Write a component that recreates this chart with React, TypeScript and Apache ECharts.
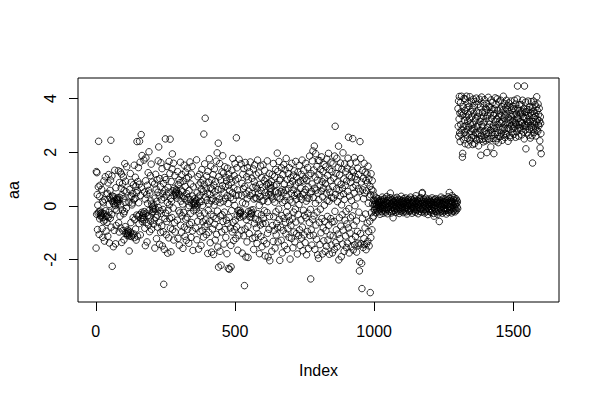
import React, { useEffect, useRef } from "react";
import * as echarts from "echarts";

// Index 1..250
const seg1a = [
  -1.57, 1.28, -0.31, 1.24, 0.42, -0.88, 0.03, -0.27, 0.71, 2.41, -0.22, -1.06, 0.35, -0.48, 0.77, -0.19, -0.36, -0.28, -0.41, -0.33, 0.62, -0.25, -0.84, 0.18, -1.17,
  -0.43, 0.12, -0.57, 0.93, -0.29, -1.31, 0.24, -0.52, 1.09, -0.18, -0.39, -0.94, 0.44, 1.74, -0.61, -0.35, 0.47, -1.13, 0.86, -0.42, 1.17, -0.23, 0.06, -1.38, 0.31,
  0.58, -0.46, 0.97, 2.45, -0.79, 0.21, -0.32, 1.12, -2.25, 0.37, 0.16, 0.29, -1.52, 0.08, 0.34, -0.91, 0.19, 1.33, -0.12, 0.02, -1.41, 0.68, -0.73, 0.26, -0.17,
  0.14, 0.22, 0.09, 0.31, 0.18, 1.31, -0.63, 0.25, -0.97, 0.87, 0.32, -0.38, 1.27, 0.04, -0.82, 0.66, 1.19, -1.36, 0.41, -0.14, 0.83, -0.92, 0.27, 1.08, -0.29,
  -1.26, 0.57, -0.21, 1.58, 0.13, -0.77, 0.92, -1.03, 0.53, -0.08, 1.46, -1.02, -0.96, -1.11, -0.89, -1.07, -0.93, -1.01, 0.14, -1.68, 0.61, -1.12, 0.33, 1.21, -0.98,
  -0.62, 0.88, -1.14, 0.36, 0.04, 0.11, -1.09, 0.47, -0.44, 0.79, -1.04, 0.23, 1.52, -1.18, -0.51, 0.28, 1.07, -0.86, 0.74, -1.27, 0.49, -0.34, 2.40, 0.57, -1.13,
  0.91, -0.38, 1.43, 0.12, -0.66, 0.81, 2.41, -0.32, 1.63, -1.08, 0.39, -0.47, 2.66, 0.69, -0.24, 1.88, -0.58, -0.42, -0.35, -0.51, -0.29, -0.44, 1.71, -0.21, 0.52,
  -0.83, 0.26, -1.48, 0.94, 1.79, -0.27, -0.63, 0.43, -1.34, 0.77, 0.09, -0.36, 1.24, -0.71, 0.58, 2.02, -0.17, -0.96, 0.48, -0.41, 1.13, -0.57, 0.19, 1.56, -0.87,
  0.07, -0.26, 0.89, -0.04, -0.13, -0.21, -0.09, -0.68, 0.03, -0.53, 0.82, -1.57, 0.29, -0.11, 1.18, -0.43, 0.63, -1.22, 0.17, 0.98, -0.34, -0.79, 0.51, 1.68, -0.06,
  2.20, -0.61, 0.38, -1.43, 1.02, -0.18, 0.72, -0.99, 1.61, -0.28, 0.23, -0.74, 1.39, -1.49, 0.46, -0.13, -0.96, 0.84, -2.92, 0.31, -1.62, 1.06, -0.47, 0.59, 2.50,
];

// Index 251..500
const seg1b = [
  -0.27, 0.98, -1.07, 0.41, -0.58, 1.47, 0.13, -1.76, 0.69, -0.16, 0.52, -1.19, 1.66, 0.04, -0.47, 1.21, 2.49, -0.83, 0.28, -1.71, 0.91, 0.17, -0.43, 1.38, 1.94,
  -0.88, 0.57, -0.08, 1.59, -1.27, 0.39, 0.66, -0.62, 1.13, -0.97, 0.48, 0.52, 0.44, 0.61, 0.38, 0.56, 0.29, -0.53, 1.28, -1.21, 0.79, 0.46, -0.18, 0.97, -1.46,
  0.42, -0.26, 0.87, 1.63, -0.72, 0.18, 0.59, -0.98, 1.17, -0.37, 0.53, 0.07, -1.58, 0.92, -0.24, 0.36, 1.52, -0.79, 0.27, -1.13, 0.73, 1.26, -0.49, 0.22, -1.28,
  1.03, 0.46, -0.42, 1.41, -0.87, 0.31, -0.06, 1.08, -1.39, 0.58, 0.01, -0.69, 1.64, 0.23, -0.28, 0.82, -1.17, 1.19, -0.62, 0.08, 1.47, -0.93, 0.37, -1.66, 0.71,
  0.12, -0.18, 0.11, 0.03, 0.27, 0.16, -0.04, 0.09, -0.83, 0.21, -0.13, 1.72, -1.26, 0.49, 0.03, -0.57, 1.09, 0.33, -1.61, 0.78, -0.27, 0.14, 1.18, -0.96, 0.41,
  -0.38, 0.87, -1.47, 0.62, 0.17, 1.36, -0.91, 0.02, -0.59, 0.97, 0.54, -1.16, 2.68, 0.81, -0.26, 1.57, -0.76, 3.27, 0.34, -0.52, 0.66, -1.07, 1.12, 0.21, -0.68,
  0.47, -1.77, 1.29, -0.17, 0.88, -0.98, 0.08, 1.76, -0.57, 0.43, -1.37, 0.68, 1.48, -0.31, 0.19, -1.72, 0.97, 0.63, -0.86, 0.27, 1.17, -0.39, -1.81, 0.78, 0.03,
  1.38, -0.68, 0.53, -1.27, 0.91, 0.18, -0.47, 1.67, -1.06, 0.37, 1.98, -0.19, -1.53, 0.61, 2.34, -2.28, 1.09, -0.77, 0.26, 1.58, -1.69, 0.12, -0.37, 0.96, -2.21,
  0.63, -0.97, 1.27, -0.33, 0.76, 1.87, -0.58, 0.17, 1.22, -1.42, 0.48, -0.23, 1.46, -0.88, 0.72, 0.29, -1.17, 1.06, -0.53, 0.93, -1.78, 0.38, 1.41, -0.66, 0.09,
  -2.33, 0.77, 1.19, -0.43, -2.36, 0.58, 1.01, -0.82, 0.31, -1.47, -2.27, 0.87, -0.17, 1.33, -0.97, 0.49, 1.77, -0.61, 0.24, -1.29, 0.67, 1.13, -0.88, 0.02, 1.58,
];

// Index 501..750
const seg1c = [
  -0.53, 0.97, -1.21, 0.39, 2.54, -0.78, 1.42, -0.36, 0.60, -1.65, 1.03, -0.17, 0.41, -1.09, 1.74, -0.28, -0.42, -0.16, -0.30, -0.25, -0.23, 1.57, -0.91, 0.39, 0.84,
  -1.76, 0.12, 1.18, -0.40, 0.65, -1.11, 1.39, -0.34, -2.97, 0.73, -0.86, 1.62, 0.08, -1.90, 0.45, -0.51, 1.09, -1.34, 0.27, 1.43, -0.76, -1.92, 0.98, -0.20, 0.55,
  -1.03, 1.27, -0.41, 0.39, 1.64, -0.28, -0.42, -0.16, -0.30, -0.25, 1.03, 0.47, -1.21, 0.69, -0.14, 1.38, -1.62, 0.26, 0.90, -0.65, 1.53, -1.17, 0.31, -0.49, 0.74,
  1.16, -0.82, 0.28, -1.40, 0.65, 1.71, -0.29, -1.04, 0.47, 1.23, -0.56, 0.02, -1.78, 0.80, 0.35, -0.71, 1.49, -1.14, 0.57, -0.33, 1.06, -1.52, 0.18, 0.70, -0.65,
  1.53, -0.47, 0.21, -1.29, 0.94, -0.18, 1.32, -1.86, 0.50, -0.65, 1.03, 0.37, -1.41, 0.79, -0.24, 1.68, -1.02, 0.16, -1.90, 0.85, 0.43, -0.87, 1.21, -0.39, -2.04,
  0.66, 0.52, 0.78, 0.40, 0.65, 0.91, -1.69, 0.34, 1.17, -0.73, 0.26, -1.32, 1.58, -0.40, 0.75, -0.91, 1.09, 0.14, -1.57, 0.53, 1.36, -0.22, -1.08, 0.80, -0.65,
  0.33, 1.97, -0.81, 1.29, -1.34, 0.48, -0.12, 1.66, -0.50, 0.95, -2.03, 0.27, 1.01, -0.79, 0.54, -1.28, 1.42, -0.36, 0.60, -1.75, 0.13, 1.17, -0.91, 0.49, 1.54,
  -0.46, 0.82, -1.48, 0.20, 1.35, -0.61, 0.59, -1.04, 1.77, -0.23, 0.36, -1.62, 0.98, 0.00, -0.85, 1.21, -0.39, 0.64, -1.17, 1.43, -0.56, 0.22, -1.98, 0.80, 1.05,
  -0.73, 0.47, -1.21, 1.59, 0.14, -0.48, 0.92, -1.56, 0.60, 1.15, -0.23, -0.97, 1.31, 0.39, -1.34, 0.78, -0.12, 1.66, -0.60, 0.25, -1.03, 1.07, 0.51, -1.79, 0.44,
  1.26, -0.32, 0.88, -1.10, 0.05, 1.51, -0.89, 0.34, -1.47, 0.93, 0.66, -0.52, 1.18, -1.20, 0.25, 1.71, -0.79, 0.44, -1.67, 0.93, -0.16, 1.32, -1.08, 0.50, -0.35,
];

// Index 751..1000
const seg1d = [
  1.03, -1.37, 0.61, 1.59, -0.44, 0.18, -1.82, 0.96, 0.30, -0.95, 1.43, -0.27, 0.71, -1.59, 1.14, 0.28, -0.62, 1.86, -1.10, 0.45, -0.13, -2.72, 1.21, -0.89, 0.54,
  -1.46, 0.82, 1.68, -0.50, 2.05, 0.31, -1.09, 1.34, -0.37, 2.23, 0.66, -1.62, 1.08, 0.10, 1.95, -0.71, 0.59, -1.24, 1.47, -0.23, 0.96, -1.82, 0.48, 1.70, -1.95,
  0.23, 1.17, -0.61, 1.69, -1.44, 0.78, -0.12, 1.36, -1.00, 0.55, 1.83, -0.47, 0.91, -1.79, 0.34, 1.28, -0.82, 0.66, -1.30, 1.55, 0.03, -0.57, 1.01, -1.69, 0.84,
  1.46, -0.92, 0.48, -1.50, 1.75, 0.21, -0.39, 1.14, -1.27, 0.63, 1.96, -0.72, 0.18, -1.80, 1.35, 0.51, -1.09, 0.94, -0.47, 1.63, -1.46, 0.32, 1.28, -0.60, -1.75,
  0.73, 1.57, -1.11, 0.29, 1.04, -0.58, -1.62, 1.86, -0.20, 2.97, 0.43, -1.37, 1.21, -0.89, 0.64, 1.78, -1.52, 0.16, 0.90, -1.05, 1.43, 2.23, -2.01, 0.59, -0.44,
  1.16, -1.22, 0.38, 1.60, -0.75, 0.81, -1.89, 0.04, 1.37, -0.33, 0.66, -1.42, 1.98, -0.90, 0.45, 1.01, -1.69, 0.24, 1.57, -0.53, 0.76, -1.12, 1.28, -0.20, -1.55,
  0.93, -0.67, 1.41, -1.39, 0.54, 1.78, -0.82, 2.56, -0.10, -1.75, 1.13, 0.37, -1.01, 1.59, -0.44, 0.88, -1.52, 1.06, 0.20, -1.25, 1.33, -0.37, 2.51, 0.69, -1.64,
  1.26, -0.72, 0.48, 1.80, -1.45, 0.01, 1.09, -1.14, 0.77, 1.63, -0.56, -1.72, 0.98, 0.30, -0.95, 1.41, -1.39, 0.64, 1.17, -0.23, -1.46, -2.42, -2.08, 2.40, 0.55,
  -1.03, 1.77, -1.41, 0.89, -2.14, -3.08, 1.32, -0.46, 0.60, -1.55, 1.03, 0.27, -1.21, 1.59, -1.44, 0.48, -0.82, 1.26, -0.30, 0.95, -1.63, 0.57, -1.41, 1.19, -0.64,
  0.86, -1.32, 1.48, 0.10, -0.95, 1.01, -1.49, 0.34, -0.57, 0.73, -3.23, 0.42, -1.18, 1.20, -0.25, 0.61, -0.89, 0.94, 0.07, -0.43, 0.56, 0.22, -0.38, 0.40, -0.15,
];

// Index 1001..1300
const seg2 = [
  .05, -.12, .21, -.03, .14, -.25, .08, .30, -.10, .02, -.18, .16, .27, -.06, .11, -.22, .04, .19, -.14, .09, -.31, .13, -.02, .24, -.08,
  .17, -.20, .06, .33, -.11, .01, -.27, .15, .22, -.05, .10, -.16, .28, -.09, .03, -.23, .18, .07, -.13, .35, -.04, .12, -.29, .20, -.07,
  .09, -.15, .26, -.01, .14, -.21, .31, .48, -.12, .05, .19, -.26, .08, -.06, .23, -.18, .11, -.44, .16, .02, -.10, .29, -.17, .06, .21,
  -.03, .13, -.24, .18, .04, -.09, .32, -.14, .10, -.19, .25, .00, -.07, .17, -.28, .08, .22, -.12, .03, -.20, .15, .36, -.05, .11, -.16,
  .20, -.08, .07, -.25, .14, .27, -.03, .09, -.18, .19, -.11, .04, .30, -.22, .12, -.06, .16, -.30, .02, .23, -.13, .08, -.01, .26, -.17,
  .10, -.21, .18, .05, -.09, .33, -.15, .13, -.02, .24, -.27, .07, .15, -.10, .21, -.05, .11, -.19, .28, .01, -.14, .17, -.24, .09, .38,
  -.06, .12, -.16, .22, .03, -.12, .19, -.29, .08, .14, -.04, .27, -.20, .06, .16, -.09, .31, -.13, .10, -.23, .20, .47, .50, -.07, .15,
  -.18, .04, .25, -.11, .09, -.26, .17, .02, -.15, .29, -.03, .13, -.21, .07, .22, -.08, .18, -.32, .11, .05, -.12, .26, -.19, .14, -.01,
  .21, -.14, .08, -.24, .16, .03, -.10, .30, -.17, .12, -.05, .19, -.28, .06, -.38, .24, -.09, .15, -.20, .02, .27, -.13, .10, -.22, .17,
  -.04, .13, -.31, .20, .07, -.16, .25, -.07, -.58, .11, -.23, .18, .04, -.12, .33, -.19, .09, -.02, .22, -.27, .14, .06, -.15, .28, -.08,
  .16, -.21, .10, .03, -.11, .26, -.17, .12, -.30, .19, .05, -.09, .23, -.14, .08, .34, -.24, .15, -.03, .50, -.18, .11, .29, -.06, .20,
  -.13, .07, -.26, .17, .38, -.09, .14, -.20, .02, .24, -.15, .31, -.07, .12, -.22, .18, .05, -.11, .27, -.17, .09, .21, -.04, .15, -.10,
];

// Index 1301..1600
const seg3 = [
  3.63, 2.97, 3.91, 2.59, 3.24, 4.08, 2.72, 3.46, 2.40, 3.85, 3.03, 2.67, 3.51, 4.09, 2.84, 3.38, 1.82, 1.96, 3.70, 2.95, 3.43, 2.47, 4.01, 3.19, 2.74,
  3.56, 2.32, 3.98, 3.00, 2.65, 3.31, 4.09, 2.84, 3.67, 2.53, 3.16, 3.82, 2.28, 3.40, 2.95, 3.71, 2.69, 3.24, 4.07, 2.43, 3.06, 3.52, 2.78, 3.90, 2.55,
  3.33, 2.87, 3.61, 2.29, 3.04, 3.98, 2.62, 3.46, 2.90, 3.75, 2.33, 3.17, 2.51, 3.89, 2.74, 3.28, 4.02, 2.46, 3.50, 2.95, 3.33, 2.67, 3.01, 3.79, 2.24,
  3.46, 2.72, 3.98, 2.50, 3.15, 2.81, 3.69, 1.89, 3.27, 2.63, 4.06, 3.02, 2.48, 3.50, 2.95, 3.81, 2.39, 3.34, 2.77, 3.13, 3.96, 2.52, 3.48, 2.80, 3.65,
  2.43, 3.27, 3.81, 2.69, 1.99, 3.58, 2.92, 3.36, 2.50, 4.05, 2.73, 3.17, 3.71, 2.49, 3.04, 3.68, 2.82, 3.46, 2.20, 3.95, 2.63, 3.27, 2.91, 3.59, 2.74,
  3.86, 2.52, 3.38, 3.00, 1.95, 3.61, 2.89, 3.44, 2.67, 4.03, 3.16, 2.42, 3.78, 2.90, 3.25, 2.51, 3.99, 2.74, 3.57, 3.03, 2.36, 3.32, 3.88, 2.60, 3.15,
  3.43, 2.87, 3.61, 2.59, 3.94, 3.08, 2.72, 3.36, 3.70, 2.45, 3.13, 3.57, 2.91, 4.09, 2.64, 3.28, 3.82, 2.86, 3.40, 2.55, 3.03, 3.67, 2.71, 3.39, 3.94,
  2.66, 3.12, 3.58, 2.90, 3.75, 2.41, 3.29, 3.84, 2.87, 3.43, 3.06, 2.62, 3.68, 3.20, 2.55, 3.91, 2.99, 3.34, 3.57, 2.73, 3.16, 3.72, 2.88, 3.40, 3.05,
  3.63, 2.67, 3.21, 3.94, 2.94, 3.58, 3.12, 2.56, 3.80, 3.05, 3.43, 2.77, 3.31, 3.99, 4.47, 2.88, 3.62, 3.26, 2.60, 3.55, 3.03, 3.77, 2.91, 3.39, 3.14,
  3.46, 2.82, 3.78, 3.10, 2.65, 3.51, 3.09, 3.94, 2.97, 3.33, 2.76, 3.62, 3.28, 2.50, 4.47, 3.01, 3.49, 2.84, 3.87, 2.13, 3.26, 3.52, 2.98, 3.60, 3.15,
  2.73, 3.37, 3.91, 3.09, 2.64, 3.58, 3.22, 2.86, 3.70, 3.15, 2.53, 3.47, 3.01, 3.89, 2.94, 3.38, 2.62, 3.66, 1.60, 3.15, 3.53, 2.87, 3.91, 3.29, 2.74,
  3.46, 3.02, 3.78, 2.90, 3.35, 2.61, 3.69, 3.14, 4.07, 2.83, 3.56, 3.22, 2.78, 3.80, 3.05, 3.41, 2.99, 3.64, 3.17, 2.43, 2.16, 3.32, 3.08, 2.70, 1.95,
];

const xTicks = [0, 500, 1000, 1500];
const yTicks = [-2, 0, 2, 4];
const xLabel = "Index";
const yLabel = "aa";

const FONT = "'Liberation Sans', Arial, sans-serif";

export default function App() {
  const ref = useRef<HTMLDivElement>(null);
  useEffect(() => {
    if (!ref.current) return;
    const chart = echarts.init(ref.current, null, { renderer: "svg" });
    const values = [...seg1a, ...seg1b, ...seg1c, ...seg1d, ...seg2, ...seg3];
    const data = values.map((v, i) => [i + 1, v]);
    const gridLeft = 78;
    const gridTop = 78;
    const gridW = 481;
    const gridH = 224;
    chart.setOption({
      animation: false,
      backgroundColor: "#fff",
      grid: {
        left: gridLeft,
        top: gridTop,
        width: gridW,
        height: gridH,
        show: true,
        borderColor: "#000",
        borderWidth: 1,
        backgroundColor: "transparent",
      },
      xAxis: {
        type: "value",
        min: -64,
        max: 1664,
        axisLine: { show: false, onZero: false },
        splitLine: { show: false },
        axisTick: {
          show: true,
          inside: false,
          length: 9,
          customValues: xTicks,
          lineStyle: { color: "#000", width: 1 },
        },
        axisLabel: {
          customValues: xTicks,
          formatter: (v: number) => String(v),
          color: "#000",
          fontSize: 16,
          fontFamily: FONT,
          margin: 21,
        },
      },
      yAxis: {
        type: "value",
        min: -3.58,
        max: 4.77,
        axisLine: { show: false, onZero: false },
        splitLine: { show: false },
        axisTick: {
          show: true,
          inside: false,
          length: 9,
          customValues: yTicks,
          lineStyle: { color: "#000", width: 1 },
        },
        axisLabel: {
          customValues: yTicks,
          formatter: (v: number) => String(v),
          color: "#000",
          fontSize: 16,
          fontFamily: FONT,
          rotate: 90,
          margin: 20,
        },
      },
      graphic: [
        {
          type: "text",
          x: gridLeft + gridW / 2,
          y: 370,
          style: {
            text: xLabel,
            fill: "#000",
            font: `16px ${FONT}`,
            textAlign: "center",
            textVerticalAlign: "middle",
          },
        },
        {
          type: "text",
          x: 13,
          y: gridTop + gridH / 2,
          rotation: Math.PI / 2,
          style: {
            text: yLabel,
            fill: "#000",
            font: `16px ${FONT}`,
            textAlign: "center",
            textVerticalAlign: "middle",
          },
        },
      ],
      series: [
        {
          type: "scatter",
          data,
          symbol: "circle",
          symbolSize: 6.5,
          itemStyle: {
            color: "rgba(0,0,0,0)",
            borderColor: "#000",
            borderWidth: 1,
          },
          emphasis: { disabled: true },
        },
      ],
    });
    return () => chart.dispose();
  }, []);
  return (
    <div
      ref={ref}
      style={{ position: "absolute", left: 0, top: 0, width: 600, height: 400 }}
    />
  );
}
